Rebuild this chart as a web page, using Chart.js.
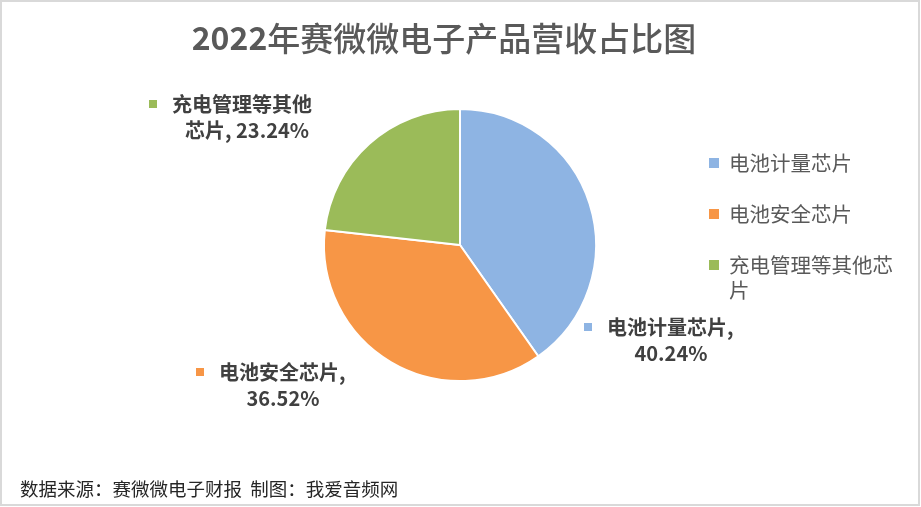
<!DOCTYPE html>
<html>
<head>
<meta charset="utf-8">
<script src="https://cdn.jsdelivr.net/npm/chart.js@4"></script>
<style>
  html, body { margin: 0; padding: 0; background: #fff; }
  #wrap { width: 921px; height: 507px; position: relative; }
</style>
</head>
<body>
<div id="wrap"><canvas id="pie" width="921" height="507"></canvas></div>
<script>
const categories = ["电池计量芯片", "电池安全芯片", "充电管理等其他芯片"];
const shares = [40.24, 36.52, 23.24];
const colors = ["#8EB4E3", "#F79646", "#9BBB59"];
const titleYear = "2022";
const titleText = "年赛微微电子产品营收占比图";
const sourceText = "数据来源：赛微微电子财报  制图：我爱音频网";

// where each data label sits, and how many chars go on its first line
const labelSpots = [
    { x: 588, y: 327, cx: 671, first: 6 },
    { x: 200, y: 372, cx: 283, first: 6 },
    { x: 153, y: 104, cx: 247, first: 7 }
];

const cjk = '"Noto Sans CJK SC", "Noto Sans", sans-serif';

const decor = {
    id: "decor",
    afterDraw(chart) {
        const c = chart.ctx;
        c.save();

        // frame
        c.strokeStyle = "#d9d9d9";
        c.lineWidth = 2;
        c.strokeRect(1, 1, chart.width - 3, chart.height - 3);

        // title: bold digits then regular text
        c.textBaseline = "middle";
        c.fillStyle = "#595959";
        c.font = "bold 32px " + cjk;
        const w1 = c.measureText(titleYear).width;
        c.font = "500 33px " + cjk;
        const w2 = c.measureText(titleText).width;
        let tx = 444 - (w1 + w2) / 2;
        c.textAlign = "left";
        c.font = "bold 32px " + cjk;
        c.fillText(titleYear, tx, 38);
        c.font = "500 33px " + cjk;
        c.fillText(titleText, tx + w1, 38);

        // data labels
        labelSpots.forEach((s, i) => {
            const name = categories[i];
            const pct = shares[i].toFixed(2) + "%";
            const line1 = name.slice(0, s.first) + (s.first >= name.length ? "," : "");
            const rest = name.slice(s.first);
            const line2 = rest ? rest + ", " + pct : pct;
            c.fillStyle = colors[i];
            c.fillRect(s.x - 4, s.y - 4, 8, 8);
            c.fillStyle = "#404040";
            c.font = "bold 20px " + cjk;
            c.textAlign = "left";
            c.fillText(line1, s.x + 19, s.y);
            c.textAlign = "center";
            c.fillText(line2, s.cx, s.y + 26);
        });

        // legend
        const rows = [163, 214, 265];
        c.font = "20.5px " + cjk;
        c.textAlign = "left";
        categories.forEach((name, i) => {
            c.fillStyle = colors[i];
            c.fillRect(709, rows[i] - 5, 10, 10);
            c.fillStyle = "#595959";
            if (name.length > 8) {
                c.fillText(name.slice(0, 8), 729, rows[i]);
                c.fillText(name.slice(8), 729, rows[i] + 25);
            } else {
                c.fillText(name, 729, rows[i]);
            }
        });

        // source note
        c.fillStyle = "#262626";
        c.font = "18.5px " + cjk;
        c.fillText(sourceText, 20, 489);

        c.restore();
    }
};

new Chart(document.getElementById("pie"), {
    type: "pie",
    data: {
        labels: categories,
        datasets: [{
            data: shares,
            backgroundColor: colors,
            borderColor: "#ffffff",
            borderWidth: 2
        }]
    },
    options: {
        responsive: false,
        animation: false,
        layout: { padding: { left: 323, right: 324, top: 108, bottom: 125 } },
        plugins: {
            legend: { display: false },
            tooltip: { enabled: false },
            title: { display: false }
        }
    },
    plugins: [decor]
});
</script>
</body>
</html>
